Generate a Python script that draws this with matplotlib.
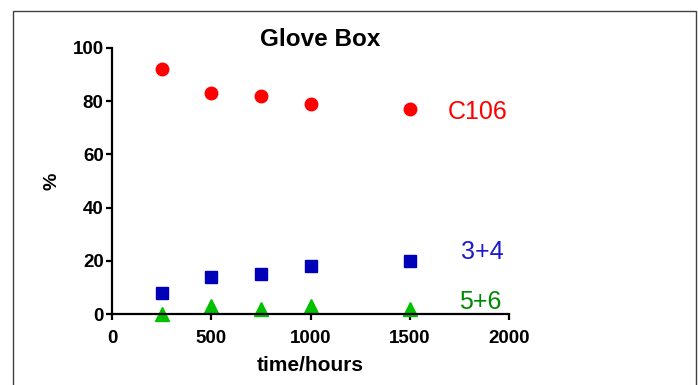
import matplotlib
matplotlib.use('Agg')
from matplotlib import pyplot as plt
from matplotlib.patches import Rectangle

plt.rcParams['font.family'] = ['Liberation Sans', 'DejaVu Sans']

# data
hours = [250, 500, 750, 1000, 1500]
c106 = [92, 83, 82, 79, 77]
s34 = [8, 14, 15, 18, 20]
s56 = [0, 3, 2, 3, 2]

fig = plt.figure(figsize=(6.98, 3.85), dpi=100)
ax = fig.add_axes([112/698, 1-314.3/385, (509.3-112)/698, (314.3-47.7)/385])

# frame round the whole picture
fig.patches.append(Rectangle((13/698, -0.1), (696-13)/698, 1.1-10.5/385,
                             transform=fig.transFigure, fill=False,
                             edgecolor='#404040', linewidth=1.0))

ax.plot(hours, c106, 'o', color='#ff0000', markersize=9, clip_on=False)
ax.plot(hours, s34, 's', color='#0000b8', markersize=8.5, clip_on=False)
ax.plot(hours, s56, '^', color='#00c000', markersize=9.5, clip_on=False)

ax.text(1692, 76, 'C106', color='#ff0000', fontsize=18, va='center', ha='left')
ax.text(1755, 23.5, '3+4', color='#1a1acc', fontsize=18, va='center', ha='left')
ax.text(1748, 4.7, '5+6', color='#008a00', fontsize=18, va='center', ha='left')

ax.set_xlim(0, 2000)
ax.set_ylim(0, 100)
ax.set_xticks([0, 500, 1000, 1500, 2000])
ax.set_yticks([0, 20, 40, 60, 80, 100])
for s in ['top', 'right']:
    ax.spines[s].set_visible(False)
for s in ['left', 'bottom']:
    ax.spines[s].set_linewidth(1.6)
ax.tick_params(width=1.6, length=4, labelsize=13.5)
ax.tick_params(axis='x', pad=7)
ax.tick_params(axis='y', pad=2)
for lab in ax.get_xticklabels() + ax.get_yticklabels():
    lab.set_fontweight('bold')

ax.set_xlabel('time/hours', fontsize=15, fontweight='bold', labelpad=7)
ax.set_ylabel('%', fontsize=14, fontweight='bold', labelpad=9)

fig.text(320/698, 1-40/385, 'Glove Box', fontsize=17.5, fontweight='bold',
         ha='center', va='center')

fig.savefig('out.png', dpi=100)
